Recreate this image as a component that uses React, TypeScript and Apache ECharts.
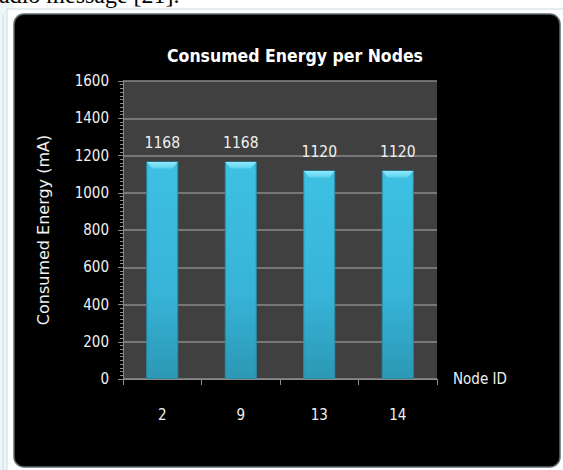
import React, { useEffect, useRef } from "react";
import * as echarts from "echarts";

const nodeIds = ["2", "9", "13", "14"];
const energy = [1168, 1168, 1120, 1120];
const chartTitle = "Consumed Energy per Nodes";
const yAxisTitle = "Consumed Energy (mA)";
const xAxisTitle = "Node ID";
const pageText = "radio message [21].";

const COND = "'Liberation Sans Narrow', 'DejaVu Sans Condensed', 'Roboto Condensed', sans-serif";

export default function App() {
  const ref = useRef<HTMLDivElement>(null);
  useEffect(() => {
    if (!ref.current) return;
    const chart = echarts.init(ref.current, undefined, { renderer: "svg" });
    const HW = 16;
    chart.setOption({
      animation: false,
      backgroundColor: "#ffffff",
      graphic: [
        { type: "rect", z: -20, shape: { x: 0, y: 0, width: 14, height: 470 }, style: { fill: "#eef6f8" } },
        { type: "line", z: -19, shape: { x1: 3, y1: 14, x2: 3, y2: 470 }, style: { stroke: "#c5dde4", lineWidth: 1 } },
        { type: "rect", z: -18, shape: { x: 7, y: 9, width: 570, height: 470 }, style: { fill: "#ffffff", stroke: "#c8dde3", lineWidth: 1 } },
        { type: "rect", z: -17, shape: { x: 14, y: 14, width: 546, height: 453, r: 10 }, style: { fill: "#000000", stroke: "#5c6b6b", lineWidth: 1.5 } },
        {
          type: "text", z: 10, x: -9, y: 7,
          style: { text: pageText, fill: "#000", font: "24px 'Liberation Serif', 'DejaVu Serif', serif", textVerticalAlign: "bottom" },
        },
      ],
      title: {
        text: chartTitle,
        left: 290,
        textAlign: "center",
        top: 42,
        textStyle: { color: "#ffffff", fontFamily: COND, fontWeight: "bold", fontSize: 17.5 },
      },
      grid: {
        left: 123, right: 126, top: 81, bottom: 91,
        show: true, backgroundColor: "#404040", borderWidth: 0,
      },
      xAxis: {
        type: "category",
        data: nodeIds,
        name: xAxisTitle,
        nameLocation: "end",
        nameGap: 16,
        nameTextStyle: { color: "#f0f0f0", fontFamily: COND, fontSize: 15, verticalAlign: "middle" },
        axisLine: { show: true, lineStyle: { color: "#8c8c8c", width: 1 } },
        axisTick: { show: true, length: 6, lineStyle: { color: "#8c8c8c" } },
        axisLabel: { color: "#f0f0f0", fontFamily: COND, fontSize: 15, margin: 28 },
        splitLine: { show: false },
      },
      yAxis: {
        type: "value",
        min: 0,
        max: 1600,
        interval: 200,
        name: yAxisTitle,
        nameLocation: "middle",
        nameGap: 72,
        nameTextStyle: { color: "#f0f0f0", fontFamily: "'DejaVu Sans', sans-serif", fontSize: 16 },
        axisLine: { show: true, lineStyle: { color: "#8c8c8c", width: 1 } },
        axisTick: { show: true, length: 5, lineStyle: { color: "#8c8c8c" } },
        minorTick: { show: true, splitNumber: 10, length: 3, lineStyle: { color: "#8c8c8c" } },
        axisLabel: {
          color: "#f0f0f0", fontFamily: COND, fontSize: 15, margin: 14,
          formatter: (v: number) => String(v),
        },
        splitLine: { show: true, lineStyle: { color: "#8a8a8a", width: 1.5 } },
      },
      series: [
        {
          type: "bar",
          data: energy,
          barWidth: HW * 2,
          itemStyle: {
            color: new echarts.graphic.LinearGradient(0, 0, 0, 1, [
              { offset: 0, color: "#3dc1e3" },
              { offset: 0.6, color: "#37b4d7" },
              { offset: 1, color: "#2c98b6" },
            ]),
            borderColor: "#2a8ba8",
            borderWidth: 1,
          },
          label: {
            show: true,
            position: "top",
            distance: 10,
            color: "#f0f0f0",
            fontFamily: COND,
            fontSize: 15.5,
          },
        },
        {
          type: "custom",
          silent: true,
          z: 5,
          data: energy.map((v, i) => [i, v]),
          encode: { x: 0, y: 1 },
          renderItem: (params: any, api: any) => {
            const top = api.coord([api.value(0), api.value(1)]);
            const x = top[0];
            const y = top[1];
            return {
              type: "polygon",
              shape: {
                points: [
                  [x - HW + 0.5, y + 0.5],
                  [x + HW - 0.5, y + 0.5],
                  [x + HW - 6, y + 7],
                  [x - HW + 6, y + 7],
                ],
              },
              style: {
                fill: new echarts.graphic.LinearGradient(0, 0, 0, 1, [
                  { offset: 0, color: "#8eeafc" },
                  { offset: 1, color: "#5fd3ef" },
                ]),
              },
            };
          },
        },
      ],
    });
    return () => chart.dispose();
  }, []);
  return (
    <div
      ref={ref}
      style={{ position: "fixed", left: 0, top: 0, width: 563, height: 470 }}
    />
  );
}
